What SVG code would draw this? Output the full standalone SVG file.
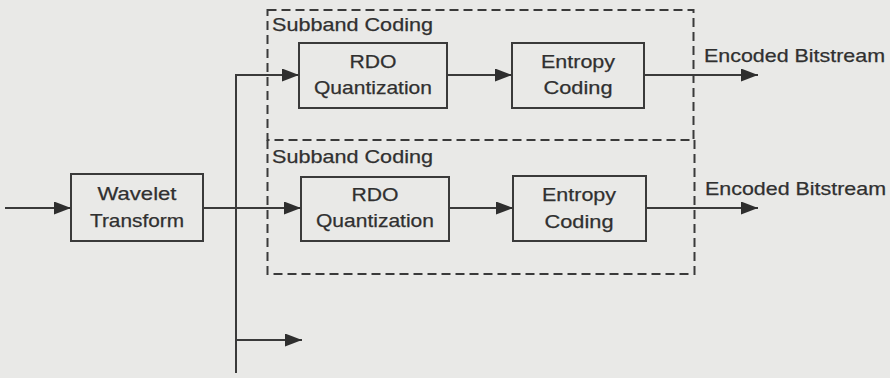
<svg xmlns="http://www.w3.org/2000/svg" width="890" height="378" viewBox="0 0 890 378">
<style>
.bg{fill:#e9e9e7}
.box{fill:none;stroke:#3a3a3a;stroke-width:2}
.dash{fill:none;stroke:#3a3a3a;stroke-width:2;stroke-dasharray:9 5}
.conn{fill:none;stroke:#3a3a3a;stroke-width:2}
.t{font-family:"Liberation Sans",Arial,sans-serif;font-size:19px;fill:#303030;stroke:#303030;stroke-width:0.25}
.c{text-anchor:middle}
</style>
<defs>
<marker id="ah" markerUnits="userSpaceOnUse" markerWidth="18" markerHeight="14" refX="17" refY="6.5" orient="auto">
<path d="M0,0 L17,6.5 L0,13 Z" fill="#2e2e2e"/>
</marker>
</defs>
<rect class="bg" x="0" y="0" width="890" height="378"/>
<g id="subband1">
<rect class="dash" x="267.5" y="10" width="426" height="130"/>
<text class="t" x="272" y="31" textLength="161" lengthAdjust="spacingAndGlyphs">Subband Coding</text>
</g>
<g id="subband2">
<path class="dash" d="M267.5,140 V274 H694.5 V140"/>
<text class="t" x="272" y="163" textLength="161" lengthAdjust="spacingAndGlyphs">Subband Coding</text>
</g>
<g id="wavelet">
<rect class="box" x="71" y="174" width="132" height="67"/>
<text class="t c" x="137" y="200" textLength="79" lengthAdjust="spacingAndGlyphs">Wavelet</text>
<text class="t c" x="137" y="227" textLength="94" lengthAdjust="spacingAndGlyphs">Transform</text>
</g>
<g id="rdo1">
<rect class="box" x="299" y="43" width="148" height="65"/>
<text class="t c" x="373" y="68" textLength="47" lengthAdjust="spacingAndGlyphs">RDO</text>
<text class="t c" x="373" y="94" textLength="118" lengthAdjust="spacingAndGlyphs">Quantization</text>
</g>
<g id="entropy1">
<rect class="box" x="512" y="43" width="132" height="65"/>
<text class="t c" x="578" y="68" textLength="74" lengthAdjust="spacingAndGlyphs">Entropy</text>
<text class="t c" x="578" y="94" textLength="69" lengthAdjust="spacingAndGlyphs">Coding</text>
</g>
<g id="rdo2">
<rect class="box" x="301" y="177" width="148" height="64"/>
<text class="t c" x="375" y="201" textLength="47" lengthAdjust="spacingAndGlyphs">RDO</text>
<text class="t c" x="375" y="227" textLength="118" lengthAdjust="spacingAndGlyphs">Quantization</text>
</g>
<g id="entropy2">
<rect class="box" x="513" y="176" width="133" height="65"/>
<text class="t c" x="579" y="201" textLength="74" lengthAdjust="spacingAndGlyphs">Entropy</text>
<text class="t c" x="579" y="228" textLength="69" lengthAdjust="spacingAndGlyphs">Coding</text>
</g>
<g id="out1">
<text class="t" x="704" y="62" textLength="181" lengthAdjust="spacingAndGlyphs">Encoded Bitstream</text>
</g>
<g id="out2">
<text class="t" x="705" y="195" textLength="181" lengthAdjust="spacingAndGlyphs">Encoded Bitstream</text>
</g>
<g id="connectors">
<line class="conn" x1="5" y1="208" x2="71" y2="208" marker-end="url(#ah)"/>
<line class="conn" x1="203" y1="208" x2="301" y2="208" marker-end="url(#ah)"/>
<line class="conn" x1="236" y1="74" x2="236" y2="373"/>
<line class="conn" x1="235" y1="75" x2="299" y2="75" marker-end="url(#ah)"/>
<line class="conn" x1="236" y1="340" x2="302" y2="340" marker-end="url(#ah)"/>
<line class="conn" x1="447" y1="75" x2="512" y2="75" marker-end="url(#ah)"/>
<line class="conn" x1="449" y1="208" x2="513" y2="208" marker-end="url(#ah)"/>
<line class="conn" x1="644" y1="75" x2="758" y2="75" marker-end="url(#ah)"/>
<line class="conn" x1="646" y1="208" x2="758" y2="208" marker-end="url(#ah)"/>
</g>
</svg>
